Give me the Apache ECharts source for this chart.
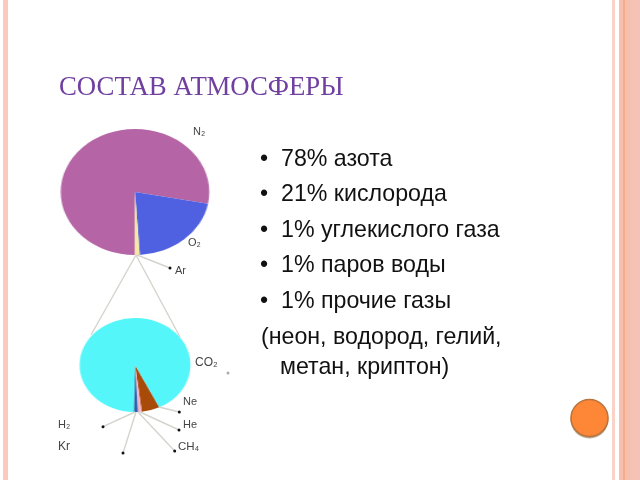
<!DOCTYPE html>
<html><head><meta charset="utf-8">
<style>
html,body{margin:0;padding:0;background:#fff;width:640px;height:480px;overflow:hidden}
#pies{position:absolute;left:0;top:0;width:542.4px;height:480px;transform-origin:0 0;transform:scaleX(1.18)}
#over{position:absolute;left:0;top:0;width:640px;height:480px}
</style>
<script src="https://cdn.jsdelivr.net/npm/echarts@6/dist/echarts.min.js"></script>
</head><body>
<div id="pies"></div><div id="over"></div>
<script>
const titleText = 'СОСТАВ АТМОСФЕРЫ';
const airNames = ['N₂','O₂','Ar'];
const airValues = [78, 21, 1];
const airColors = ['#b565a6','#4f60e0','#f6e7a6'];
const traceNames = ['Ne','He','CH₄','Kr','H₂','CO₂'];
const traceValues = [5.3, 1.1, 1.0, 0.1, 0.1, 92.4];
const traceColors = ['#a84a08','#f5b6c8','#2b5db0','#1c3f80','#2a2a60','#55f6fa'];
const bulletLines = ['78% азота','21% кислорода','1% углекислого газа','1% паров воды','1% прочие газы'];
const noteLines = ['(неон, водород, гелий,','метан, криптон)'];

function pieSeries(names, values, colors, cy, r, start){
  return {type:'pie', center:[114.4,cy], radius:[0,r], startAngle:start, clockwise:true,
    avoidLabelOverlap:false, silent:true, animation:false, label:{show:false}, labelLine:{show:false},
    emphasis:{disabled:true}, minShowLabelAngle:0, stillShowZeroSum:false,
    data:names.map((n,i)=>({name:n,value:values[i],itemStyle:{color:colors[i]}}))};
}
echarts.init(document.getElementById('pies')).setOption({
  animation:false,
  series:[pieSeries(airNames,airValues,airColors,192,63,-90),
          pieSeries(traceNames,traceValues,traceColors,365,47,-64)]
});

const g = [];
const rect=(x,w,c)=>g.push({type:'rect',silent:true,z:1,shape:{x,y:0,width:w,height:480},style:{fill:c}});
rect(3,5,'#fdc9ba');
rect(612,3,'#fad3c8'); rect(619,4,'#f6bfae'); rect(623,2,'#f4ab8e'); rect(625,5,'#f6bfae'); rect(630,10,'#f6c2b5');
const line=(x1,y1,x2,y2)=>g.push({type:'line',silent:true,z:2,shape:{x1,y1,x2,y2},style:{stroke:'#d4d4ce',lineWidth:1.4}});
const dot=(x,y,c)=>g.push({type:'circle',silent:true,z:3,shape:{cx:x,cy:y,r:1.5},style:{fill:c||'#111'}});
const lab=(t,x,y,fs)=>g.push({type:'text',silent:true,z:3,style:{text:t,x,y,fontFamily:'Liberation Sans',fontSize:fs,fill:'#444',textVerticalAlign:'middle'}});
line(136,255,91,335); line(136,255,180,337); line(137,255,170,268);
[[159,407,179.3,412],[140,412,179,430],[138,412,174.7,451],[136,412,123,453],[135,412,103,426.7]].forEach(a=>{line(...a);dot(a[2],a[3]);});
dot(170,268); dot(228,373,'#aaa');
lab('N₂',193,132,11); lab('O₂',188,243,11); lab('Ar',175,271,11);
lab('CO₂',195,363,12); lab('Ne',183,402,11); lab('He',183,425,11); lab('CH₄',178,447,11.5);
lab('H₂',58,425,11); lab('Kr',58,447,12);
const rowY=[160,195,231,266,302];
const body=(t,x,y)=>g.push({type:'text',silent:true,z:3,style:{text:t,x,y,fontFamily:'Liberation Sans',fontSize:23.2,fill:'#111',textVerticalAlign:'middle'}});
bulletLines.forEach((t,i)=>{ body('•',260,rowY[i]); body(t,281,rowY[i]); });
body(noteLines[0],261,338); body(noteLines[1],280,368);
g.push({type:'circle',silent:true,z:3,shape:{cx:589.5,cy:419.5,r:19},style:{fill:'#b9a78f'}});
g.push({type:'circle',silent:true,z:4,shape:{cx:589.5,cy:418,r:18.5},style:{fill:'#fd8637',stroke:'#b9733c',lineWidth:1.5}});

echarts.init(document.getElementById('over')).setOption({
  animation:false,
  backgroundColor:'transparent',
  title:{text:titleText,left:54,top:69,textStyle:{fontFamily:'Liberation Serif',fontSize:26.8,fontWeight:'normal',color:'#7040a0'}},
  graphic:g
});
</script>
</body></html>
